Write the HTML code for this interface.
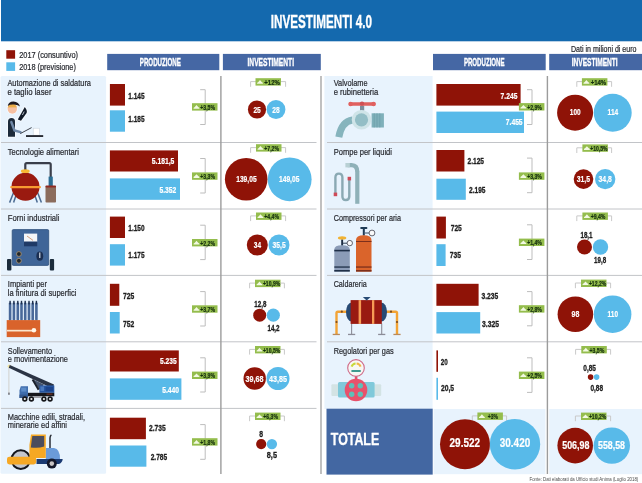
<!DOCTYPE html>
<html lang="it">
<head>
<meta charset="utf-8">
<title>Investimenti 4.0</title>
<style>
html,body{margin:0;padding:0;background:#fff;}
body{width:642px;height:483px;overflow:hidden;}
svg{display:block;}
</style>
</head>
<body>
<svg width="642" height="483" viewBox="0 0 642 483" font-family="'Liberation Sans', sans-serif" shape-rendering="auto">
<rect x="0.0" y="0.0" width="642.0" height="483.0" fill="#ffffff"/>
<rect x="1.0" y="0.0" width="641.0" height="41.3" fill="#1469ae"/>
<text x="270.8" y="27.8" font-size="18.3" font-weight="bold" fill="#ffffff" textLength="101.3" lengthAdjust="spacingAndGlyphs" stroke="#ffffff" stroke-width="0.35">INVESTIMENTI 4.0</text>
<rect x="6.3" y="50.2" width="8.8" height="8.5" fill="#8f1307"/>
<rect x="6.3" y="62.3" width="8.8" height="8.6" fill="#58bae9"/>
<text x="19.2" y="58.0" font-size="9" fill="#282a30" textLength="58.8" lengthAdjust="spacingAndGlyphs" stroke="#282a30" stroke-width="0.22">2017 (consuntivo)</text>
<text x="19.2" y="70.0" font-size="9" fill="#282a30" textLength="56.7" lengthAdjust="spacingAndGlyphs" stroke="#282a30" stroke-width="0.22">2018 (previsione)</text>
<text x="571.0" y="51.8" font-size="8.7" fill="#282a30" textLength="65.5" lengthAdjust="spacingAndGlyphs" stroke="#282a30" stroke-width="0.22">Dati in milioni di euro</text>
<rect x="107.2" y="53.9" width="112.1" height="16.3" fill="#4567a4"/>
<text x="139.8" y="65.7" font-size="10.8" font-weight="bold" fill="#ffffff" textLength="41.1" lengthAdjust="spacingAndGlyphs" stroke="#ffffff" stroke-width="0.35">PRODUZIONE</text>
<rect x="222.9" y="53.9" width="97.9" height="16.3" fill="#4567a4"/>
<text x="247.5" y="65.7" font-size="10.8" font-weight="bold" fill="#ffffff" textLength="46.5" lengthAdjust="spacingAndGlyphs" stroke="#ffffff" stroke-width="0.35">INVESTIMENTI</text>
<rect x="433.0" y="53.9" width="112.7" height="16.3" fill="#4567a4"/>
<text x="463.9" y="65.7" font-size="10.8" font-weight="bold" fill="#ffffff" textLength="40.7" lengthAdjust="spacingAndGlyphs" stroke="#ffffff" stroke-width="0.35">PRODUZIONE</text>
<rect x="549.2" y="53.9" width="92.8" height="16.3" fill="#4567a4"/>
<text x="571.7" y="65.7" font-size="10.8" font-weight="bold" fill="#ffffff" textLength="46.0" lengthAdjust="spacingAndGlyphs" stroke="#ffffff" stroke-width="0.35">INVESTIMENTI</text>
<rect x="0.5" y="76.0" width="105.6" height="397.8" fill="#e8f3fd" rx="1.5"/>
<rect x="324.4" y="76.0" width="108.2" height="333.0" fill="#e8f3fd"/>
<rect x="433.6" y="409.0" width="111.8" height="65.2" fill="#e8f3fd"/>
<rect x="549.2" y="409.0" width="92.8" height="65.2" fill="#e8f3fd"/>
<rect x="326.5" y="408.7" width="106.2" height="65.9" fill="#4367a2"/>
<text x="330.8" y="445.0" font-size="17.2" font-weight="bold" fill="#ffffff" textLength="48.4" lengthAdjust="spacingAndGlyphs" stroke="#ffffff" stroke-width="0.35">TOTALE</text>
<line x1="1.0" y1="142.5" x2="316.5" y2="142.5" stroke="#c2c4c8" stroke-width="1"/>
<line x1="1.0" y1="209.0" x2="316.5" y2="209.0" stroke="#c2c4c8" stroke-width="1"/>
<line x1="1.0" y1="275.4" x2="316.5" y2="275.4" stroke="#c2c4c8" stroke-width="1"/>
<line x1="1.0" y1="341.8" x2="316.5" y2="341.8" stroke="#c2c4c8" stroke-width="1"/>
<line x1="1.0" y1="408.4" x2="316.5" y2="408.4" stroke="#c2c4c8" stroke-width="1"/>
<line x1="327.0" y1="142.5" x2="642.0" y2="142.5" stroke="#c2c4c8" stroke-width="1"/>
<line x1="327.0" y1="209.0" x2="642.0" y2="209.0" stroke="#c2c4c8" stroke-width="1"/>
<line x1="327.0" y1="275.4" x2="642.0" y2="275.4" stroke="#c2c4c8" stroke-width="1"/>
<line x1="327.0" y1="341.8" x2="642.0" y2="341.8" stroke="#c2c4c8" stroke-width="1"/>
<line x1="220.9" y1="76.0" x2="220.9" y2="474.0" stroke="#9c9c9c" stroke-width="1.4"/>
<line x1="321.0" y1="76.0" x2="321.0" y2="474.0" stroke="#a6a6a6" stroke-width="1.4"/>
<line x1="547.4" y1="76.0" x2="547.4" y2="474.0" stroke="#9c9c9c" stroke-width="1.4"/>
<text x="7.4" y="85.8" font-size="9.5" fill="#282a30" textLength="83.6" lengthAdjust="spacingAndGlyphs" stroke="#282a30" stroke-width="0.22">Automazione di saldatura</text>
<text x="7.4" y="94.5" font-size="9.5" fill="#282a30" textLength="44.1" lengthAdjust="spacingAndGlyphs" stroke="#282a30" stroke-width="0.22">e taglio laser</text>
<rect x="109.9" y="84.0" width="15.1" height="21.6" fill="#8f1307"/>
<rect x="109.9" y="110.3" width="15.1" height="21.4" fill="#58bae9"/>
<text x="128.3" y="98.7" font-size="9.3" font-weight="bold" fill="#1f1f1f" textLength="16.2" lengthAdjust="spacingAndGlyphs" stroke="#1f1f1f" stroke-width="0.32">1.145</text>
<text x="128.3" y="122.2" font-size="9.3" font-weight="bold" fill="#1f1f1f" textLength="16.2" lengthAdjust="spacingAndGlyphs" stroke="#1f1f1f" stroke-width="0.32">1.185</text>
<path d="M200.2 89.7 H205.2 V124.5 H200.2" fill="none" stroke="#bdbdbd" stroke-width="1"/>
<rect x="192.0" y="103.2" width="25.5" height="7.4" fill="#94bd4d"/>
<path d="M193.5 108.7 Q193.3 107.4 194.8 106.9 L196.5 105.0 L198.2 106.9 Q199.7 107.4 199.5 108.7 Z" fill="#f2f9e2"/>
<text x="200.3" y="109.7" font-size="7.7" font-weight="bold" fill="#17320f" textLength="14.7" lengthAdjust="spacingAndGlyphs" stroke="#17320f" stroke-width="0.24">+3,5%</text>
<text x="7.8" y="155.4" font-size="9.5" fill="#282a30" textLength="71.2" lengthAdjust="spacingAndGlyphs" stroke="#282a30" stroke-width="0.22">Tecnologie alimentari</text>
<rect x="109.9" y="150.4" width="68.1" height="21.1" fill="#8f1307"/>
<rect x="109.9" y="178.4" width="70.1" height="21.4" fill="#58bae9"/>
<text x="151.8" y="164.4" font-size="9.3" font-weight="bold" fill="#ffffff" textLength="22.6" lengthAdjust="spacingAndGlyphs" stroke="#ffffff" stroke-width="0.22">5.181,5</text>
<text x="159.4" y="192.5" font-size="9.3" font-weight="bold" fill="#ffffff" textLength="16.8" lengthAdjust="spacingAndGlyphs" stroke="#ffffff" stroke-width="0.22">5.352</text>
<path d="M200.2 158.5 H205.2 V193.0 H200.2" fill="none" stroke="#bdbdbd" stroke-width="1"/>
<rect x="192.0" y="172.4" width="25.5" height="7.4" fill="#94bd4d"/>
<path d="M193.5 177.9 Q193.3 176.6 194.8 176.1 L196.5 174.2 L198.2 176.1 Q199.7 176.6 199.5 177.9 Z" fill="#f2f9e2"/>
<text x="200.3" y="178.9" font-size="7.7" font-weight="bold" fill="#17320f" textLength="14.7" lengthAdjust="spacingAndGlyphs" stroke="#17320f" stroke-width="0.24">+3,3%</text>
<text x="7.8" y="220.6" font-size="9.5" fill="#282a30" textLength="51.7" lengthAdjust="spacingAndGlyphs" stroke="#282a30" stroke-width="0.22">Forni industriali</text>
<rect x="109.9" y="216.6" width="15.1" height="21.4" fill="#8f1307"/>
<rect x="109.9" y="244.2" width="15.1" height="21.4" fill="#58bae9"/>
<text x="128.3" y="231.3" font-size="9.3" font-weight="bold" fill="#1f1f1f" textLength="16.2" lengthAdjust="spacingAndGlyphs" stroke="#1f1f1f" stroke-width="0.32">1.150</text>
<text x="128.3" y="257.8" font-size="9.3" font-weight="bold" fill="#1f1f1f" textLength="16.2" lengthAdjust="spacingAndGlyphs" stroke="#1f1f1f" stroke-width="0.32">1.175</text>
<path d="M200.2 225.2 H205.2 V259.6 H200.2" fill="none" stroke="#bdbdbd" stroke-width="1"/>
<rect x="192.0" y="239.0" width="25.5" height="7.4" fill="#94bd4d"/>
<path d="M193.5 244.5 Q193.3 243.2 194.8 242.7 L196.5 240.8 L198.2 242.7 Q199.7 243.2 199.5 244.5 Z" fill="#f2f9e2"/>
<text x="200.3" y="245.5" font-size="7.7" font-weight="bold" fill="#17320f" textLength="14.7" lengthAdjust="spacingAndGlyphs" stroke="#17320f" stroke-width="0.24">+2,2%</text>
<text x="7.8" y="287.0" font-size="9.5" fill="#282a30" textLength="39.2" lengthAdjust="spacingAndGlyphs" stroke="#282a30" stroke-width="0.22">Impianti per</text>
<text x="7.8" y="295.8" font-size="9.5" fill="#282a30" textLength="68.7" lengthAdjust="spacingAndGlyphs" stroke="#282a30" stroke-width="0.22">la finitura di superfici</text>
<rect x="109.9" y="283.8" width="9.4" height="22.0" fill="#8f1307"/>
<rect x="109.9" y="312.0" width="9.8" height="21.5" fill="#58bae9"/>
<text x="123.0" y="299.4" font-size="9.3" font-weight="bold" fill="#1f1f1f" textLength="11.3" lengthAdjust="spacingAndGlyphs" stroke="#1f1f1f" stroke-width="0.32">725</text>
<text x="123.0" y="326.6" font-size="9.3" font-weight="bold" fill="#1f1f1f" textLength="11.3" lengthAdjust="spacingAndGlyphs" stroke="#1f1f1f" stroke-width="0.32">752</text>
<path d="M200.2 291.6 H205.2 V326.0 H200.2" fill="none" stroke="#bdbdbd" stroke-width="1"/>
<rect x="192.0" y="305.3" width="25.5" height="7.4" fill="#94bd4d"/>
<path d="M193.5 310.8 Q193.3 309.5 194.8 309.0 L196.5 307.1 L198.2 309.0 Q199.7 309.5 199.5 310.8 Z" fill="#f2f9e2"/>
<text x="200.3" y="311.8" font-size="7.7" font-weight="bold" fill="#17320f" textLength="14.7" lengthAdjust="spacingAndGlyphs" stroke="#17320f" stroke-width="0.24">+3,7%</text>
<text x="7.8" y="353.8" font-size="9.5" fill="#282a30" textLength="44.2" lengthAdjust="spacingAndGlyphs" stroke="#282a30" stroke-width="0.22">Sollevamento</text>
<text x="7.8" y="362.4" font-size="9.5" fill="#282a30" textLength="60.2" lengthAdjust="spacingAndGlyphs" stroke="#282a30" stroke-width="0.22">e movimentazione</text>
<rect x="109.9" y="350.4" width="68.9" height="21.1" fill="#8f1307"/>
<rect x="109.9" y="378.4" width="71.5" height="21.4" fill="#58bae9"/>
<text x="160.0" y="364.4" font-size="9.3" font-weight="bold" fill="#ffffff" textLength="16.6" lengthAdjust="spacingAndGlyphs" stroke="#ffffff" stroke-width="0.22">5.235</text>
<text x="162.2" y="392.5" font-size="9.3" font-weight="bold" fill="#ffffff" textLength="16.8" lengthAdjust="spacingAndGlyphs" stroke="#ffffff" stroke-width="0.22">5.440</text>
<path d="M200.2 357.8 H205.2 V392.0 H200.2" fill="none" stroke="#bdbdbd" stroke-width="1"/>
<rect x="192.0" y="371.6" width="25.5" height="7.4" fill="#94bd4d"/>
<path d="M193.5 377.1 Q193.3 375.8 194.8 375.3 L196.5 373.4 L198.2 375.3 Q199.7 375.8 199.5 377.1 Z" fill="#f2f9e2"/>
<text x="200.3" y="378.1" font-size="7.7" font-weight="bold" fill="#17320f" textLength="14.7" lengthAdjust="spacingAndGlyphs" stroke="#17320f" stroke-width="0.24">+3,9%</text>
<text x="7.8" y="420.1" font-size="9.5" fill="#282a30" textLength="77.2" lengthAdjust="spacingAndGlyphs" stroke="#282a30" stroke-width="0.22">Macchine edili, stradali,</text>
<text x="7.8" y="428.4" font-size="9.5" fill="#282a30" textLength="59.2" lengthAdjust="spacingAndGlyphs" stroke="#282a30" stroke-width="0.22">minerarie ed affini</text>
<rect x="109.9" y="417.7" width="36.0" height="21.5" fill="#8f1307"/>
<rect x="109.9" y="445.5" width="36.5" height="21.2" fill="#58bae9"/>
<text x="149.0" y="430.5" font-size="9.3" font-weight="bold" fill="#1f1f1f" textLength="16.7" lengthAdjust="spacingAndGlyphs" stroke="#1f1f1f" stroke-width="0.32">2.735</text>
<text x="150.7" y="460.0" font-size="9.3" font-weight="bold" fill="#1f1f1f" textLength="16.5" lengthAdjust="spacingAndGlyphs" stroke="#1f1f1f" stroke-width="0.32">2.785</text>
<path d="M200.2 424.6 H205.2 V459.3 H200.2" fill="none" stroke="#bdbdbd" stroke-width="1"/>
<rect x="192.0" y="438.2" width="25.5" height="7.4" fill="#94bd4d"/>
<path d="M193.5 443.7 Q193.3 442.4 194.8 441.9 L196.5 440.0 L198.2 441.9 Q199.7 442.4 199.5 443.7 Z" fill="#f2f9e2"/>
<text x="200.3" y="444.7" font-size="7.7" font-weight="bold" fill="#17320f" textLength="14.7" lengthAdjust="spacingAndGlyphs" stroke="#17320f" stroke-width="0.24">+1,8%</text>
<text x="333.7" y="85.8" font-size="9.5" fill="#282a30" textLength="33.9" lengthAdjust="spacingAndGlyphs" stroke="#282a30" stroke-width="0.22">Valvolame</text>
<text x="333.7" y="94.5" font-size="9.5" fill="#282a30" textLength="44.6" lengthAdjust="spacingAndGlyphs" stroke="#282a30" stroke-width="0.22">e rubinetteria</text>
<rect x="436.4" y="84.0" width="84.2" height="21.6" fill="#8f1307"/>
<rect x="436.4" y="111.6" width="87.6" height="21.4" fill="#58bae9"/>
<text x="500.6" y="98.7" font-size="9.3" font-weight="bold" fill="#ffffff" textLength="16.8" lengthAdjust="spacingAndGlyphs" stroke="#ffffff" stroke-width="0.22">7.245</text>
<text x="505.8" y="124.6" font-size="9.3" font-weight="bold" fill="#ffffff" textLength="16.8" lengthAdjust="spacingAndGlyphs" stroke="#ffffff" stroke-width="0.22">7.455</text>
<path d="M527.0 89.7 H532.0 V124.5 H527.0" fill="none" stroke="#bdbdbd" stroke-width="1"/>
<rect x="518.9" y="103.1" width="25.5" height="7.4" fill="#94bd4d"/>
<path d="M520.4 108.6 Q520.2 107.3 521.7 106.8 L523.4 104.9 L525.1 106.8 Q526.6 107.3 526.4 108.6 Z" fill="#f2f9e2"/>
<text x="527.2" y="109.6" font-size="7.7" font-weight="bold" fill="#17320f" textLength="14.7" lengthAdjust="spacingAndGlyphs" stroke="#17320f" stroke-width="0.24">+2,9%</text>
<text x="333.7" y="155.3" font-size="9.5" fill="#282a30" textLength="58.3" lengthAdjust="spacingAndGlyphs" stroke="#282a30" stroke-width="0.22">Pompe per liquidi</text>
<rect x="436.4" y="150.0" width="28.0" height="21.5" fill="#8f1307"/>
<rect x="436.4" y="178.7" width="29.4" height="21.1" fill="#58bae9"/>
<text x="467.5" y="164.2" font-size="9.3" font-weight="bold" fill="#1f1f1f" textLength="16.5" lengthAdjust="spacingAndGlyphs" stroke="#1f1f1f" stroke-width="0.32">2.125</text>
<text x="469.0" y="192.5" font-size="9.3" font-weight="bold" fill="#1f1f1f" textLength="16.5" lengthAdjust="spacingAndGlyphs" stroke="#1f1f1f" stroke-width="0.32">2.195</text>
<path d="M527.0 158.1 H532.0 V192.7 H527.0" fill="none" stroke="#bdbdbd" stroke-width="1"/>
<rect x="518.9" y="172.4" width="25.5" height="7.4" fill="#94bd4d"/>
<path d="M520.4 177.9 Q520.2 176.6 521.7 176.1 L523.4 174.2 L525.1 176.1 Q526.6 176.6 526.4 177.9 Z" fill="#f2f9e2"/>
<text x="527.2" y="178.9" font-size="7.7" font-weight="bold" fill="#17320f" textLength="14.7" lengthAdjust="spacingAndGlyphs" stroke="#17320f" stroke-width="0.24">+3,3%</text>
<text x="333.7" y="220.6" font-size="9.5" fill="#282a30" textLength="67.2" lengthAdjust="spacingAndGlyphs" stroke="#282a30" stroke-width="0.22">Compressori per aria</text>
<rect x="436.4" y="216.6" width="9.5" height="21.9" fill="#8f1307"/>
<rect x="436.4" y="244.2" width="9.2" height="21.8" fill="#58bae9"/>
<text x="450.7" y="231.3" font-size="9.3" font-weight="bold" fill="#1f1f1f" textLength="11.1" lengthAdjust="spacingAndGlyphs" stroke="#1f1f1f" stroke-width="0.32">725</text>
<text x="449.8" y="258.2" font-size="9.3" font-weight="bold" fill="#1f1f1f" textLength="11.2" lengthAdjust="spacingAndGlyphs" stroke="#1f1f1f" stroke-width="0.32">735</text>
<path d="M527.0 224.8 H532.0 V259.5 H527.0" fill="none" stroke="#bdbdbd" stroke-width="1"/>
<rect x="518.9" y="238.6" width="25.5" height="7.4" fill="#94bd4d"/>
<path d="M520.4 244.1 Q520.2 242.8 521.7 242.3 L523.4 240.4 L525.1 242.3 Q526.6 242.8 526.4 244.1 Z" fill="#f2f9e2"/>
<text x="527.2" y="245.1" font-size="7.7" font-weight="bold" fill="#17320f" textLength="14.7" lengthAdjust="spacingAndGlyphs" stroke="#17320f" stroke-width="0.24">+1,4%</text>
<text x="333.7" y="287.3" font-size="9.5" fill="#282a30" textLength="33.1" lengthAdjust="spacingAndGlyphs" stroke="#282a30" stroke-width="0.22">Caldareria</text>
<rect x="436.4" y="283.8" width="42.2" height="22.0" fill="#8f1307"/>
<rect x="436.4" y="312.1" width="43.8" height="21.4" fill="#58bae9"/>
<text x="481.5" y="299.4" font-size="9.3" font-weight="bold" fill="#1f1f1f" textLength="16.8" lengthAdjust="spacingAndGlyphs" stroke="#1f1f1f" stroke-width="0.32">3.235</text>
<text x="482.0" y="327.1" font-size="9.3" font-weight="bold" fill="#1f1f1f" textLength="17.0" lengthAdjust="spacingAndGlyphs" stroke="#1f1f1f" stroke-width="0.32">3.325</text>
<path d="M527.0 291.6 H532.0 V325.8 H527.0" fill="none" stroke="#bdbdbd" stroke-width="1"/>
<rect x="518.9" y="305.2" width="25.5" height="7.4" fill="#94bd4d"/>
<path d="M520.4 310.7 Q520.2 309.4 521.7 308.9 L523.4 307.0 L525.1 308.9 Q526.6 309.4 526.4 310.7 Z" fill="#f2f9e2"/>
<text x="527.2" y="311.7" font-size="7.7" font-weight="bold" fill="#17320f" textLength="14.7" lengthAdjust="spacingAndGlyphs" stroke="#17320f" stroke-width="0.24">+2,8%</text>
<text x="333.7" y="353.5" font-size="9.5" fill="#282a30" textLength="60.0" lengthAdjust="spacingAndGlyphs" stroke="#282a30" stroke-width="0.22">Regolatori per gas</text>
<rect x="436.4" y="350.4" width="1.6" height="21.4" fill="#8f1307"/>
<rect x="436.4" y="377.8" width="1.6" height="22.0" fill="#58bae9"/>
<text x="440.8" y="365.4" font-size="9.3" font-weight="bold" fill="#1f1f1f" textLength="7.0" lengthAdjust="spacingAndGlyphs" stroke="#1f1f1f" stroke-width="0.32">20</text>
<text x="441.0" y="390.8" font-size="9.3" font-weight="bold" fill="#1f1f1f" textLength="13.1" lengthAdjust="spacingAndGlyphs" stroke="#1f1f1f" stroke-width="0.32">20,5</text>
<path d="M527.0 357.8 H532.0 V392.4 H527.0" fill="none" stroke="#bdbdbd" stroke-width="1"/>
<rect x="518.9" y="371.6" width="25.5" height="7.4" fill="#94bd4d"/>
<path d="M520.4 377.1 Q520.2 375.8 521.7 375.3 L523.4 373.4 L525.1 375.3 Q526.6 375.8 526.4 377.1 Z" fill="#f2f9e2"/>
<text x="527.2" y="378.1" font-size="7.7" font-weight="bold" fill="#17320f" textLength="14.7" lengthAdjust="spacingAndGlyphs" stroke="#17320f" stroke-width="0.24">+2,5%</text>
<path d="M250.6 86.8 V81.6 H285.6 V86.8" fill="none" stroke="#c9c9c9" stroke-width="1"/>
<rect x="255.5" y="78.2" width="25.5" height="7.4" fill="#94bd4d"/>
<path d="M257.0 83.7 Q256.8 82.4 258.3 81.9 L260.0 80.0 L261.7 81.9 Q263.2 82.4 263.0 83.7 Z" fill="#f2f9e2"/>
<text x="264.3" y="84.7" font-size="7.7" font-weight="bold" fill="#17320f" textLength="15.5" lengthAdjust="spacingAndGlyphs" stroke="#17320f" stroke-width="0.24">+12%</text>
<circle cx="257.0" cy="109.5" r="9.1" fill="#8f1307"/>
<circle cx="276.0" cy="109.5" r="9.4" fill="#58bae9"/>
<text x="253.4" y="112.8" font-size="9.7" font-weight="bold" fill="#ffffff" textLength="7.4" lengthAdjust="spacingAndGlyphs" stroke="#ffffff" stroke-width="0.2">25</text>
<text x="272.2" y="112.8" font-size="9.7" font-weight="bold" fill="#ffffff" textLength="7.4" lengthAdjust="spacingAndGlyphs" stroke="#ffffff" stroke-width="0.2">28</text>
<path d="M250.6 152.8 V147.6 H285.6 V152.8" fill="none" stroke="#c9c9c9" stroke-width="1"/>
<rect x="256.0" y="144.2" width="25.5" height="7.4" fill="#94bd4d"/>
<path d="M257.5 149.7 Q257.3 148.4 258.8 147.9 L260.5 146.0 L262.2 147.9 Q263.7 148.4 263.5 149.7 Z" fill="#f2f9e2"/>
<text x="264.3" y="150.7" font-size="7.7" font-weight="bold" fill="#17320f" textLength="14.7" lengthAdjust="spacingAndGlyphs" stroke="#17320f" stroke-width="0.24">+7,2%</text>
<circle cx="246.2" cy="179.2" r="21.3" fill="#8f1307"/>
<circle cx="289.7" cy="179.3" r="21.9" fill="#58bae9"/>
<text x="236.2" y="182.0" font-size="9.7" font-weight="bold" fill="#ffffff" textLength="20.4" lengthAdjust="spacingAndGlyphs" stroke="#ffffff" stroke-width="0.2">139,05</text>
<text x="279.0" y="182.0" font-size="9.7" font-weight="bold" fill="#ffffff" textLength="20.4" lengthAdjust="spacingAndGlyphs" stroke="#ffffff" stroke-width="0.2">149,05</text>
<path d="M250.6 221.1 V215.9 H285.6 V221.1" fill="none" stroke="#c9c9c9" stroke-width="1"/>
<rect x="256.0" y="212.5" width="25.5" height="7.4" fill="#94bd4d"/>
<path d="M257.5 218.0 Q257.3 216.7 258.8 216.2 L260.5 214.3 L262.2 216.2 Q263.7 216.7 263.5 218.0 Z" fill="#f2f9e2"/>
<text x="264.3" y="219.0" font-size="7.7" font-weight="bold" fill="#17320f" textLength="14.7" lengthAdjust="spacingAndGlyphs" stroke="#17320f" stroke-width="0.24">+4,4%</text>
<circle cx="257.3" cy="245.0" r="10.5" fill="#8f1307"/>
<circle cx="279.0" cy="245.0" r="10.5" fill="#58bae9"/>
<text x="253.8" y="248.2" font-size="9.7" font-weight="bold" fill="#ffffff" textLength="7.2" lengthAdjust="spacingAndGlyphs" stroke="#ffffff" stroke-width="0.2">34</text>
<text x="272.6" y="248.2" font-size="9.7" font-weight="bold" fill="#ffffff" textLength="13.0" lengthAdjust="spacingAndGlyphs" stroke="#ffffff" stroke-width="0.2">35,5</text>
<path d="M249.6 288.3 V283.1 H284.4 V288.3" fill="none" stroke="#c9c9c9" stroke-width="1"/>
<rect x="255.0" y="279.7" width="25.5" height="7.4" fill="#94bd4d"/>
<path d="M256.5 285.2 Q256.3 283.9 257.8 283.4 L259.5 281.5 L261.2 283.4 Q262.7 283.9 262.5 285.2 Z" fill="#f2f9e2"/>
<text x="262.9" y="286.2" font-size="7.7" font-weight="bold" fill="#17320f" textLength="17.3" lengthAdjust="spacingAndGlyphs" stroke="#17320f" stroke-width="0.24">+10,9%</text>
<circle cx="259.7" cy="315.2" r="6.5" fill="#8f1307"/>
<circle cx="273.3" cy="315.2" r="6.6" fill="#58bae9"/>
<text x="254.3" y="306.5" font-size="9.299999999999999" font-weight="bold" fill="#1f1f1f" textLength="12.1" lengthAdjust="spacingAndGlyphs" stroke="#1f1f1f" stroke-width="0.32">12,8</text>
<text x="267.4" y="331.4" font-size="9.299999999999999" font-weight="bold" fill="#1f1f1f" textLength="12.2" lengthAdjust="spacingAndGlyphs" stroke="#1f1f1f" stroke-width="0.32">14,2</text>
<path d="M249.6 354.6 V349.4 H284.4 V354.6" fill="none" stroke="#c9c9c9" stroke-width="1"/>
<rect x="255.0" y="346.0" width="25.5" height="7.4" fill="#94bd4d"/>
<path d="M256.5 351.5 Q256.3 350.2 257.8 349.7 L259.5 347.8 L261.2 349.7 Q262.7 350.2 262.5 351.5 Z" fill="#f2f9e2"/>
<text x="262.9" y="352.5" font-size="7.7" font-weight="bold" fill="#17320f" textLength="17.3" lengthAdjust="spacingAndGlyphs" stroke="#17320f" stroke-width="0.24">+10,5%</text>
<circle cx="254.7" cy="378.5" r="11.2" fill="#8f1307"/>
<circle cx="278.0" cy="378.5" r="11.5" fill="#58bae9"/>
<text x="245.6" y="381.6" font-size="9.7" font-weight="bold" fill="#ffffff" textLength="18.0" lengthAdjust="spacingAndGlyphs" stroke="#ffffff" stroke-width="0.2">39,68</text>
<text x="269.0" y="381.6" font-size="9.7" font-weight="bold" fill="#ffffff" textLength="18.0" lengthAdjust="spacingAndGlyphs" stroke="#ffffff" stroke-width="0.2">43,85</text>
<path d="M249.6 421.2 V416.0 H284.4 V421.2" fill="none" stroke="#c9c9c9" stroke-width="1"/>
<rect x="255.0" y="412.6" width="25.5" height="7.4" fill="#94bd4d"/>
<path d="M256.5 418.1 Q256.3 416.8 257.8 416.3 L259.5 414.4 L261.2 416.3 Q262.7 416.8 262.5 418.1 Z" fill="#f2f9e2"/>
<text x="263.3" y="419.1" font-size="7.7" font-weight="bold" fill="#17320f" textLength="14.7" lengthAdjust="spacingAndGlyphs" stroke="#17320f" stroke-width="0.24">+6,3%</text>
<circle cx="261.2" cy="444.1" r="5.1" fill="#8f1307"/>
<circle cx="271.9" cy="444.1" r="5.2" fill="#58bae9"/>
<text x="259.2" y="437.4" font-size="9.299999999999999" font-weight="bold" fill="#1f1f1f" textLength="3.8" lengthAdjust="spacingAndGlyphs" stroke="#1f1f1f" stroke-width="0.32">8</text>
<text x="266.8" y="457.7" font-size="9.299999999999999" font-weight="bold" fill="#1f1f1f" textLength="10.2" lengthAdjust="spacingAndGlyphs" stroke="#1f1f1f" stroke-width="0.32">8,5</text>
<path d="M576.8 86.8 V81.6 H611.6 V86.8" fill="none" stroke="#c9c9c9" stroke-width="1"/>
<rect x="581.9" y="78.2" width="25.5" height="7.4" fill="#94bd4d"/>
<path d="M583.4 83.7 Q583.2 82.4 584.7 81.9 L586.4 80.0 L588.1 81.9 Q589.6 82.4 589.4 83.7 Z" fill="#f2f9e2"/>
<text x="590.7" y="84.7" font-size="7.7" font-weight="bold" fill="#17320f" textLength="15.5" lengthAdjust="spacingAndGlyphs" stroke="#17320f" stroke-width="0.24">+14%</text>
<circle cx="575.1" cy="112.7" r="18.0" fill="#8f1307"/>
<circle cx="612.7" cy="112.7" r="19.0" fill="#58bae9"/>
<text x="569.8" y="115.1" font-size="9.7" font-weight="bold" fill="#ffffff" textLength="10.8" lengthAdjust="spacingAndGlyphs" stroke="#ffffff" stroke-width="0.2">100</text>
<text x="607.6" y="115.1" font-size="9.7" font-weight="bold" fill="#ffffff" textLength="10.6" lengthAdjust="spacingAndGlyphs" stroke="#ffffff" stroke-width="0.2">114</text>
<path d="M576.8 153.0 V147.8 H611.6 V153.0" fill="none" stroke="#c9c9c9" stroke-width="1"/>
<rect x="582.4" y="144.4" width="25.5" height="7.4" fill="#94bd4d"/>
<path d="M583.9 149.9 Q583.7 148.6 585.2 148.1 L586.9 146.2 L588.6 148.1 Q590.1 148.6 589.9 149.9 Z" fill="#f2f9e2"/>
<text x="590.3" y="150.9" font-size="7.7" font-weight="bold" fill="#17320f" textLength="17.3" lengthAdjust="spacingAndGlyphs" stroke="#17320f" stroke-width="0.24">+10,5%</text>
<circle cx="583.5" cy="179.1" r="9.8" fill="#8f1307"/>
<circle cx="605.2" cy="179.1" r="10.2" fill="#58bae9"/>
<text x="576.8" y="182.4" font-size="9.7" font-weight="bold" fill="#ffffff" textLength="13.2" lengthAdjust="spacingAndGlyphs" stroke="#ffffff" stroke-width="0.2">31,5</text>
<text x="598.6" y="182.4" font-size="9.7" font-weight="bold" fill="#ffffff" textLength="13.2" lengthAdjust="spacingAndGlyphs" stroke="#ffffff" stroke-width="0.2">34,8</text>
<path d="M576.8 221.1 V215.9 H611.6 V221.1" fill="none" stroke="#c9c9c9" stroke-width="1"/>
<rect x="582.4" y="212.5" width="25.5" height="7.4" fill="#94bd4d"/>
<path d="M583.9 218.0 Q583.7 216.7 585.2 216.2 L586.9 214.3 L588.6 216.2 Q590.1 216.7 589.9 218.0 Z" fill="#f2f9e2"/>
<text x="590.7" y="219.0" font-size="7.7" font-weight="bold" fill="#17320f" textLength="14.7" lengthAdjust="spacingAndGlyphs" stroke="#17320f" stroke-width="0.24">+9,4%</text>
<circle cx="584.5" cy="247.0" r="7.5" fill="#8f1307"/>
<circle cx="600.5" cy="247.0" r="7.7" fill="#58bae9"/>
<text x="580.4" y="237.8" font-size="9.299999999999999" font-weight="bold" fill="#1f1f1f" textLength="12.2" lengthAdjust="spacingAndGlyphs" stroke="#1f1f1f" stroke-width="0.32">18,1</text>
<text x="594.0" y="262.7" font-size="9.299999999999999" font-weight="bold" fill="#1f1f1f" textLength="12.2" lengthAdjust="spacingAndGlyphs" stroke="#1f1f1f" stroke-width="0.32">19,8</text>
<path d="M575.4 288.2 V283.0 H610.6 V288.2" fill="none" stroke="#c9c9c9" stroke-width="1"/>
<rect x="581.0" y="279.6" width="25.5" height="7.4" fill="#94bd4d"/>
<path d="M582.5 285.1 Q582.3 283.8 583.8 283.3 L585.5 281.4 L587.2 283.3 Q588.7 283.8 588.5 285.1 Z" fill="#f2f9e2"/>
<text x="588.9" y="286.1" font-size="7.7" font-weight="bold" fill="#17320f" textLength="17.3" lengthAdjust="spacingAndGlyphs" stroke="#17320f" stroke-width="0.24">+12,2%</text>
<circle cx="575.4" cy="314.2" r="17.8" fill="#8f1307"/>
<circle cx="612.6" cy="314.2" r="18.8" fill="#58bae9"/>
<text x="571.6" y="317.4" font-size="9.7" font-weight="bold" fill="#ffffff" textLength="7.8" lengthAdjust="spacingAndGlyphs" stroke="#ffffff" stroke-width="0.2">98</text>
<text x="607.6" y="317.4" font-size="9.7" font-weight="bold" fill="#ffffff" textLength="10.4" lengthAdjust="spacingAndGlyphs" stroke="#ffffff" stroke-width="0.2">110</text>
<path d="M575.6 354.6 V349.4 H610.6 V354.6" fill="none" stroke="#c9c9c9" stroke-width="1"/>
<rect x="581.3" y="346.0" width="25.5" height="7.4" fill="#94bd4d"/>
<path d="M582.8 351.5 Q582.6 350.2 584.1 349.7 L585.8 347.8 L587.5 349.7 Q589.0 350.2 588.8 351.5 Z" fill="#f2f9e2"/>
<text x="589.6" y="352.5" font-size="7.7" font-weight="bold" fill="#17320f" textLength="14.7" lengthAdjust="spacingAndGlyphs" stroke="#17320f" stroke-width="0.24">+3,5%</text>
<circle cx="590.6" cy="377.1" r="2.8" fill="#8f1307"/>
<circle cx="596.6" cy="377.1" r="2.8" fill="#58bae9"/>
<text x="583.3" y="370.8" font-size="9.299999999999999" font-weight="bold" fill="#1f1f1f" textLength="12.7" lengthAdjust="spacingAndGlyphs" stroke="#1f1f1f" stroke-width="0.32">0,85</text>
<text x="590.4" y="391.1" font-size="9.299999999999999" font-weight="bold" fill="#1f1f1f" textLength="12.7" lengthAdjust="spacingAndGlyphs" stroke="#1f1f1f" stroke-width="0.32">0,88</text>
<path d="M472.3 421.1 V415.9 H506.6 V421.1" fill="none" stroke="#c9c9c9" stroke-width="1"/>
<rect x="477.4" y="412.5" width="25.5" height="7.4" fill="#94bd4d"/>
<path d="M478.9 418.0 Q478.7 416.7 480.2 416.2 L481.9 414.3 L483.6 416.2 Q485.1 416.7 484.9 418.0 Z" fill="#f2f9e2"/>
<text x="487.7" y="419.0" font-size="7.7" font-weight="bold" fill="#17320f" textLength="10.2" lengthAdjust="spacingAndGlyphs" stroke="#17320f" stroke-width="0.24">+3%</text>
<circle cx="465.0" cy="444.2" r="25.0" fill="#8f1307"/>
<circle cx="515.0" cy="444.2" r="25.2" fill="#58bae9"/>
<text x="449.6" y="446.9" font-size="12.0" font-weight="bold" fill="#ffffff" textLength="30.4" lengthAdjust="spacingAndGlyphs" stroke="#ffffff" stroke-width="0.2">29.522</text>
<text x="499.8" y="446.9" font-size="12.0" font-weight="bold" fill="#ffffff" textLength="30.4" lengthAdjust="spacingAndGlyphs" stroke="#ffffff" stroke-width="0.2">30.420</text>
<path d="M575.4 421.2 V416.0 H610.6 V421.2" fill="none" stroke="#c9c9c9" stroke-width="1"/>
<rect x="581.0" y="412.6" width="25.5" height="7.4" fill="#94bd4d"/>
<path d="M582.5 418.1 Q582.3 416.8 583.8 416.3 L585.5 414.4 L587.2 416.3 Q588.7 416.8 588.5 418.1 Z" fill="#f2f9e2"/>
<text x="588.9" y="419.1" font-size="7.7" font-weight="bold" fill="#17320f" textLength="17.3" lengthAdjust="spacingAndGlyphs" stroke="#17320f" stroke-width="0.24">+10,2%</text>
<circle cx="575.2" cy="445.6" r="17.8" fill="#8f1307"/>
<circle cx="611.8" cy="445.6" r="18.2" fill="#58bae9"/>
<text x="562.2" y="448.7" font-size="11.0" font-weight="bold" fill="#ffffff" textLength="27.2" lengthAdjust="spacingAndGlyphs" stroke="#ffffff" stroke-width="0.2">506,98</text>
<text x="598.0" y="448.7" font-size="11.0" font-weight="bold" fill="#ffffff" textLength="27.0" lengthAdjust="spacingAndGlyphs" stroke="#ffffff" stroke-width="0.2">558,58</text>
<g>
<circle cx="12.3" cy="108.6" r="5.6" fill="#f8fbfe"/>
<path d="M24.8 107 Q27.6 110.5 26.6 113 L21 120.8 L17.8 119.4 Z" fill="#f8fbfe" stroke="#f8fbfe" stroke-width="1.8" stroke-linejoin="round"/>
<path d="M8 136.8 V121.5 Q8 118 11.5 118 Q15 118 15 121.5 V136.8 Z" fill="#f8fbfe" stroke="#f8fbfe" stroke-width="1.6"/>
<path d="M8 136.8 V121.5 Q8 118 11.5 118 Q15 118 15 121.5 V136.8 Z" fill="#1c2a3a"/>
<path d="M11.3 122 L14.5 130.5 L20.5 132.2" fill="none" stroke="#7089a8" stroke-width="2.4" stroke-linecap="round" stroke-linejoin="round"/>
<clipPath id="hd"><ellipse cx="12.3" cy="108.7" rx="4.7" ry="5"/></clipPath>
<g clip-path="url(#hd)">
<rect x="7.0" y="103.0" width="11.0" height="12.0" fill="#f6c0a2"/>
<rect x="7.0" y="103.0" width="11.0" height="4.4" fill="#ecae48"/>
</g>
<path d="M7.8 106 Q8.4 101.4 13.6 101.5 Q18.8 101.8 20 106.6 Q18.4 105 14 104.6 Q10 104.2 7.8 106 Z" fill="#1f1b22"/>
<path d="M24.8 107 Q27.6 110.5 26.6 113 L21 120.8 L17.8 119.4 Z" fill="#111a28"/>
<line x1="24.2" y1="111.6" x2="22.4" y2="115.0" stroke="#dfe6ee" stroke-width="0.8"/>
<line x1="20.3" y1="133.6" x2="31.6" y2="127.6" stroke="#2b2f38" stroke-width="0.9"/>
<rect x="33.2" y="128.2" width="6.4" height="7.0" fill="#ffffff" stroke="#c9d3de" stroke-width="0.6"/>
<rect x="26.0" y="135.2" width="17.2" height="1.7" fill="#12151c"/>
</g>
<g>
<line x1="13.6" y1="192.5" x2="9.6" y2="202.6" stroke="#4b6b92" stroke-width="1.5"/>
<line x1="16.6" y1="193.5" x2="13.6" y2="202.6" stroke="#4b6b92" stroke-width="1.5"/>
<line x1="34.2" y1="193.5" x2="37.3" y2="202.6" stroke="#4b6b92" stroke-width="1.5"/>
<line x1="37.6" y1="192.5" x2="41.4" y2="202.6" stroke="#4b6b92" stroke-width="1.5"/>
<path d="M25.3 170 V164.6 Q25.3 163.2 26.7 163.2 H49.3 Q50.7 163.2 50.7 164.6 V177" fill="none" stroke="#3a3e4a" stroke-width="2.2"/>
<circle cx="25.5" cy="186.8" r="14.0" fill="#9a1a10"/>
<ellipse cx="25.3" cy="171.2" rx="4.4" ry="1.9" fill="#f6b733"/>
<rect x="10.2" y="185.9" width="30.8" height="2.4" fill="#f79b31" rx="1.2"/>
<rect x="48.6" y="176.6" width="4.2" height="10.0" fill="#2b6d93"/>
<rect x="45.5" y="186.0" width="10.5" height="16.6" fill="#8b6c5d" rx="0.8"/>
<rect x="45.5" y="185.6" width="10.5" height="2.0" fill="#8f2a22" rx="0.8"/>
</g>
<g>
<rect x="7.0" y="259.0" width="4.4" height="11.6" fill="#1b2b3b" rx="1"/>
<rect x="49.8" y="259.0" width="4.3" height="11.6" fill="#1b2b3b" rx="1"/>
<rect x="12.2" y="229.6" width="36.5" height="35.8" fill="#3f6598" rx="1.2" stroke="#30507c" stroke-width="0.8"/>
<rect x="24.0" y="233.6" width="13.2" height="8.2" fill="#f4f6f8"/>
<line x1="27.0" y1="236.0" x2="33.0" y2="240.4" stroke="#c9865a" stroke-width="0.8"/>
<rect x="24.0" y="241.6" width="13.2" height="4.7" fill="#1f3a66"/>
<circle cx="18.9" cy="254.0" r="2.4" fill="#20262c" stroke="#c2a070" stroke-width="0.7"/>
<circle cx="18.9" cy="260.8" r="2.4" fill="#20262c" stroke="#c2a070" stroke-width="0.7"/>
<ellipse cx="39.8" cy="256.2" rx="3.4" ry="4.6" fill="#1b2f52"/>
<line x1="39.8" y1="252.6" x2="39.8" y2="258.0" stroke="#e8eef6" stroke-width="1.1"/>
</g>
<g>
<rect x="8.8" y="302.6" width="2.6" height="17.8" fill="#49699a" rx="0.9"/>
<rect x="9.4" y="300.8" width="1.4" height="3.6" fill="#1d2f4d"/>
<rect x="12.6" y="302.6" width="2.6" height="17.8" fill="#49699a" rx="0.9"/>
<rect x="13.2" y="300.8" width="1.4" height="3.6" fill="#1d2f4d"/>
<rect x="16.5" y="302.6" width="2.6" height="17.8" fill="#49699a" rx="0.9"/>
<rect x="17.1" y="300.8" width="1.4" height="3.6" fill="#1d2f4d"/>
<rect x="20.2" y="302.6" width="2.6" height="17.8" fill="#49699a" rx="0.9"/>
<rect x="20.8" y="300.8" width="1.4" height="3.6" fill="#1d2f4d"/>
<rect x="23.9" y="302.6" width="2.6" height="17.8" fill="#49699a" rx="0.9"/>
<rect x="24.5" y="300.8" width="1.4" height="3.6" fill="#1d2f4d"/>
<rect x="27.7" y="302.6" width="2.6" height="17.8" fill="#49699a" rx="0.9"/>
<rect x="28.3" y="300.8" width="1.4" height="3.6" fill="#1d2f4d"/>
<rect x="31.4" y="302.6" width="2.6" height="17.8" fill="#49699a" rx="0.9"/>
<rect x="32.0" y="300.8" width="1.4" height="3.6" fill="#1d2f4d"/>
<rect x="35.1" y="302.6" width="2.6" height="17.8" fill="#49699a" rx="0.9"/>
<rect x="35.7" y="300.8" width="1.4" height="3.6" fill="#1d2f4d"/>
<rect x="6.7" y="320.1" width="33.5" height="17.0" fill="#d9632b"/>
<rect x="7.0" y="329.8" width="26.0" height="1.7" fill="#fbe5cc"/>
<circle cx="33.9" cy="330.3" r="2.3" fill="#fff6e8"/>
</g>
<g>
<line x1="8.9" y1="367.0" x2="8.9" y2="393.4" stroke="#d2d2cc" stroke-width="1.0"/>
<rect x="8.2" y="392.6" width="1.5" height="2.2" fill="#6d6d74"/>
<circle cx="9.3" cy="366.2" r="1.7" fill="#f0e4a4"/>
<path d="M33 379.6 L44 384.6 L39.4 389.6 Z" fill="#44536c"/>
<line x1="32.6" y1="379.4" x2="38.6" y2="389.8" stroke="#1a202b" stroke-width="2.0"/>
<path d="M9.8 365 L54 384.6 L52.6 388.4 L8.8 367.8 Z" fill="#2b3445"/>
<rect x="39.4" y="385.4" width="14.9" height="7.4" fill="#2655a0"/>
<rect x="45.6" y="387.0" width="7.4" height="4.2" fill="#1b428a"/>
<rect x="40.4" y="386.4" width="3.6" height="4.6" fill="#4b79bd"/>
<rect x="28.0" y="392.8" width="26.3" height="3.5" fill="#17181d"/>
<rect x="46.5" y="393.4" width="6.0" height="1.6" fill="#5a2a22"/>
<rect x="34.0" y="396.3" width="7.0" height="1.6" fill="#9a9aa0"/>
<path d="M20.8 386.3 H28 V398 H19.5 V390.4 Z" fill="#3f6dac"/>
<rect x="21.2" y="387.6" width="5.2" height="4.0" fill="#5c8cc8"/>
<rect x="19.5" y="394.6" width="8.5" height="3.4" fill="#35598f"/>
<circle cx="24.8" cy="399.0" r="2.7" fill="#15161a"/>
<circle cx="24.8" cy="399.0" r="1.1" fill="#f1f1f1"/>
<circle cx="31.4" cy="399.0" r="2.7" fill="#15161a"/>
<circle cx="31.4" cy="399.0" r="1.1" fill="#f1f1f1"/>
<circle cx="43.9" cy="399.0" r="2.7" fill="#15161a"/>
<circle cx="43.9" cy="399.0" r="1.1" fill="#f1f1f1"/>
<circle cx="50.1" cy="399.0" r="2.7" fill="#15161a"/>
<circle cx="50.1" cy="399.0" r="1.1" fill="#f1f1f1"/>
</g>
<g>
<path d="M50 448 V438 Q50 435.6 51.4 434.8" fill="none" stroke="#2a2e36" stroke-width="1.5"/>
<path d="M45.8 448 H54 Q60 449 60 458.9 H45.8 Z" fill="#6b9bd9"/>
<circle cx="20.8" cy="459.6" r="9.3" fill="#c3c6ce" stroke="#15161c" stroke-width="2"/>
<path d="M31 434.4 H45.8 V458 H29.4 V445 Z" fill="#f6a824"/>
<path d="M32.3 436 H44.2 V446.6 Q38 448.6 30.8 447.4 Z" fill="#4b4c5c"/>
<path d="M36.5 458.9 H62.7 Q62.4 462.6 59 463.9 H36.5 Z" fill="#1a3a72"/>
<rect x="7.0" y="456.7" width="29.2" height="7.8" fill="#f6a824" rx="2.4"/>
<circle cx="51.8" cy="463.6" r="5.0" fill="#14182a"/>
<circle cx="51.8" cy="463.6" r="2.3" fill="#c8c4c4"/>
</g>
<g>
<path d="M352.5 120 Q341.5 121.5 338.8 137.2" fill="none" stroke="#86b4bd" stroke-width="7" stroke-linecap="butt"/>
<rect x="371.6" y="113.3" width="12.3" height="14.2" fill="#7fb0ba"/>
<line x1="374.2" y1="113.3" x2="374.2" y2="127.5" stroke="#6a9ca8" stroke-width="0.7"/>
<line x1="377.0" y1="113.3" x2="377.0" y2="127.5" stroke="#6a9ca8" stroke-width="0.7"/>
<line x1="379.8" y1="113.3" x2="379.8" y2="127.5" stroke="#6a9ca8" stroke-width="0.7"/>
<rect x="360.0" y="105.6" width="4.2" height="5.0" fill="#7d8d9c"/>
<circle cx="361.5" cy="119.8" r="9.8" fill="#cfe4e8"/>
<circle cx="361.5" cy="119.8" r="6.6" fill="#93bec6"/>
<line x1="350.4" y1="104.0" x2="373.8" y2="104.0" stroke="#e0605f" stroke-width="3.4" stroke-linecap="round"/>
<circle cx="350.6" cy="104.0" r="2.3" fill="#e0605f"/>
<circle cx="373.6" cy="104.0" r="2.3" fill="#e0605f"/>
<circle cx="362.0" cy="103.6" r="2.2" fill="#cf4f54"/>
</g>
<g>
<path d="M335.4 194 V177.6 Q335.4 173.6 338.9 173.6 Q342.4 173.6 342.4 177.6 V196.2 Q342.4 200 345.9 200 Q349.3 200 349.3 196.2 V178.6" fill="none" stroke="#8aa9b3" stroke-width="2.4"/>
<rect x="333.7" y="192.6" width="3.5" height="3.6" fill="#cf4a58"/>
<rect x="347.6" y="176.8" width="3.5" height="3.6" fill="#cf4a58"/>
<path d="M347.6 165.2 H351.6 Q357.3 165.4 357.3 172" fill="none" stroke="#8fb1b8" stroke-width="4.2"/>
<rect x="345.4" y="163.0" width="4.4" height="4.4" fill="#b8d0d4"/>
<rect x="355.2" y="171.6" width="4.2" height="32.2" fill="#8fb1b8"/>
</g>
<g>
<rect x="341.2" y="239.4" width="1.9" height="6.4" fill="#1d2d42"/>
<ellipse cx="342.1" cy="237.9" rx="4.2" ry="1.7" fill="#f1b232"/>
<line x1="343.0" y1="243.2" x2="347.0" y2="243.2" stroke="#1d2d42" stroke-width="0.9"/>
<circle cx="349.8" cy="243.1" r="2.7" fill="#fafafa" stroke="#2a2a36" stroke-width="0.7"/>
<path d="M334.3 271.5 V249.6 Q334.3 245.2 342 245.2 Q349.8 245.2 349.8 249.6 V271.5 Z" fill="#8b9cb7"/>
<rect x="334.3" y="249.8" width="15.5" height="1.6" fill="#1f3048"/>
<rect x="334.3" y="266.4" width="15.5" height="1.3" fill="#1f3048"/>
<rect x="334.3" y="270.0" width="15.5" height="1.6" fill="#1f3048"/>
<rect x="362.8" y="229.0" width="2.0" height="6.6" fill="#1f3a55"/>
<rect x="360.2" y="227.0" width="7.2" height="1.9" fill="#1f3a55" rx="0.9"/>
<line x1="365.0" y1="233.0" x2="369.0" y2="233.0" stroke="#1f3a55" stroke-width="0.9"/>
<circle cx="372.0" cy="233.0" r="2.9" fill="#fafafa" stroke="#2a2a36" stroke-width="0.7"/>
<path d="M356 271.5 V240 Q356 235.3 363.7 235.3 Q371.5 235.3 371.5 240 V271.5 Z" fill="#da642b"/>
<rect x="356.0" y="241.0" width="15.5" height="1.0" fill="#7c2f1c"/>
<rect x="356.0" y="266.4" width="15.5" height="1.3" fill="#7c2f1c"/>
<rect x="356.0" y="270.0" width="15.5" height="1.6" fill="#7c2f1c"/>
</g>
<g>
<path d="M347 311.7 H337.8 Q336.5 311.7 336.5 313 V334" fill="none" stroke="#f2a335" stroke-width="2.4"/>
<path d="M386 311.7 H395.7 Q397 311.7 397 313 V334" fill="none" stroke="#f2a335" stroke-width="2.4"/>
<rect x="332.7" y="333.8" width="7.2" height="1.3" fill="#b98a5a"/>
<rect x="393.4" y="333.8" width="7.2" height="1.3" fill="#b98a5a"/>
<circle cx="341.8" cy="311.7" r="1.1" fill="#7a4a20"/>
<circle cx="336.5" cy="322.0" r="1.1" fill="#7a4a20"/>
<circle cx="391.0" cy="311.7" r="1.1" fill="#7a4a20"/>
<circle cx="397.0" cy="322.0" r="1.1" fill="#7a4a20"/>
<line x1="351.6" y1="323.5" x2="351.6" y2="334.2" stroke="#8c8c98" stroke-width="1.1"/>
<line x1="381.7" y1="323.5" x2="381.7" y2="334.2" stroke="#8c8c98" stroke-width="1.1"/>
<rect x="348.0" y="333.8" width="7.2" height="1.3" fill="#8c8c98"/>
<rect x="378.1" y="333.8" width="7.2" height="1.3" fill="#8c8c98"/>
<ellipse cx="351.6" cy="312" rx="5.6" ry="9.6" fill="#274a74"/>
<ellipse cx="381.4" cy="312" rx="5.6" ry="9.6" fill="#274a74"/>
<rect x="350.6" y="300.1" width="31.2" height="23.8" fill="#991a11"/>
<rect x="358.6" y="300.1" width="2.5" height="23.8" fill="#f69c55"/>
<rect x="372.0" y="300.1" width="2.3" height="23.8" fill="#f69c55"/>
<path d="M362.8 297 H370.6 L366.7 300.4 Z" fill="#274a74"/>
</g>
<g>
<rect x="331.4" y="384.2" width="49.8" height="11.8" fill="#d3e3e4" rx="1"/>
<rect x="338.0" y="382.0" width="36.6" height="15.6" fill="#80c9da" rx="1.5"/>
<rect x="354.8" y="375.6" width="2.6" height="5.0" fill="#e4506a"/>
<circle cx="356.0" cy="390.0" r="11.3" fill="#e8516b"/>
<circle cx="351.7" cy="385.7" r="2.7" fill="#5fbfb8"/>
<circle cx="360.3" cy="385.7" r="2.7" fill="#5fbfb8"/>
<circle cx="351.7" cy="394.3" r="2.7" fill="#5fbfb8"/>
<circle cx="360.3" cy="394.3" r="2.7" fill="#5fbfb8"/>
<circle cx="356.0" cy="367.9" r="8.3" fill="#f7f7f4" stroke="#cf6a88" stroke-width="1.1"/>
<path d="M351.6 366.6 A4.6 4.6 0 0 1 355.6 363.4" fill="none" stroke="#c8d83a" stroke-width="2"/>
<path d="M356.6 363.4 A4.6 4.6 0 0 1 360.6 366.6" fill="none" stroke="#f0b848" stroke-width="2"/>
<rect x="351.2" y="370.0" width="9.8" height="1.9" fill="#3f9a90" rx="0.9"/>
</g>
<text x="529.5" y="481.0" font-size="6.2" fill="#4a4a4a" textLength="108.8" lengthAdjust="spacingAndGlyphs">Fonte: Dati elaborati da Ufficio studi Anima (Luglio 2018)</text>
</svg>
</body>
</html>
